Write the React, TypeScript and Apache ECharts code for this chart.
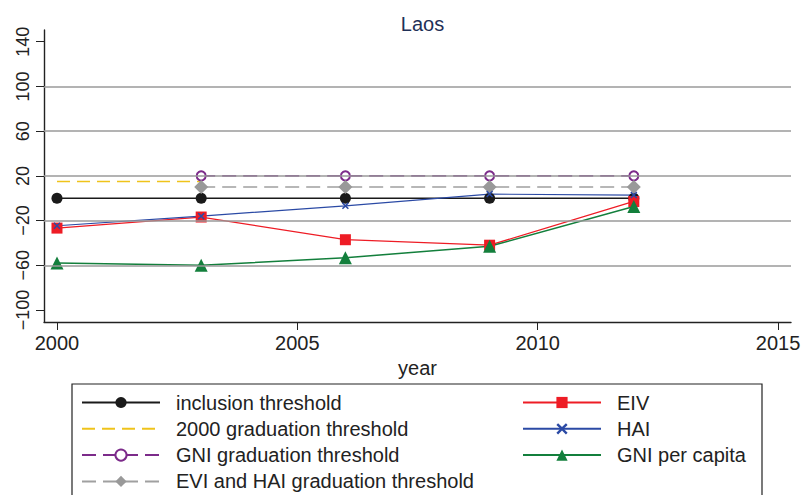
import React, { useEffect, useRef } from "react";
import * as echarts from "echarts";

const years = [2000, 2003, 2006, 2009, 2012];
const inclusionThreshold = [0, 0, 0, 0, 0];
const grad2000Years = [2000, 2003];
const grad2000Threshold = [15, 15];
const gradYears = [2003, 2006, 2009, 2012];
const gniGradThreshold = [20, 20, 20, 20];
const eviHaiGradThreshold = [10, 10, 10, 10];
const eiv = [-26.7, -16.8, -37.1, -42, -2.9];
const hai = [-24.6, -16, -6.8, 3.7, 2.8];
const gniPerCapita = [-58, -60, -53.2, -43, -7.4];

const xTicks = [2000, 2005, 2010, 2015];
const yTicks = [-100, -60, -20, 20, 60, 100, 140];
const yGrid = [-60, -20, 20, 60, 100];

const FONT = "Liberation Sans, Arial, Helvetica, sans-serif";
const X_SYMBOL =
  "path://M0,1.5 L1.5,0 L5,3.5 L8.5,0 L10,1.5 L6.5,5 L10,8.5 L8.5,10 L5,6.5 L1.5,10 L0,8.5 L3.5,5 Z";

const pairs = (xs: number[], ys: number[]) => xs.map((x, i) => [x, ys[i]]);

export default function App() {
  const ref = useRef<HTMLDivElement>(null);
  useEffect(() => {
    if (!ref.current) return;
    document.body.style.margin = "0";
    const chart = echarts.init(ref.current, undefined, { renderer: "svg" });
    const textColor = "#222";
    const legendCommon = {
      top: 392.5,
      orient: "vertical",
      padding: 0,
      itemGap: 6.3,
      itemWidth: 78,
      itemHeight: 14,
      selectedMode: false,
      textStyle: { fontFamily: FONT, fontSize: 20, color: textColor, padding: [0, 0, 0, 11] },
    };
    chart.setOption({
      animation: false,
      backgroundColor: "#fff",
      title: {
        text: "Laos",
        left: 417.5,
        textAlign: "center",
        top: 9,
        textStyle: { fontFamily: FONT, fontSize: 20, fontWeight: "normal", color: "#1f3057" },
      },
      grid: { left: 44, right: 12, top: 30, bottom: 173, containLabel: false, outerBoundsMode: "none" },
      xAxis: {
        type: "value",
        min: 1999.73,
        max: 2015.27,
        name: "year",
        nameLocation: "middle",
        nameGap: 25,
        nameTextStyle: { fontFamily: FONT, fontSize: 20, color: textColor },
        axisLine: { show: true, onZero: false, lineStyle: { color: "#222", width: 1.4 } },
        axisTick: { show: true, inside: false, length: 8, customValues: xTicks, lineStyle: { color: "#222", width: 1 } },
        axisLabel: {
          show: true,
          margin: 11,
          customValues: xTicks,
          fontFamily: FONT,
          fontSize: 20,
          color: textColor,
          hideOverlap: false,
          formatter: (v: number) => String(v),
        },
        splitLine: { show: false },
      },
      yAxis: {
        type: "value",
        min: -110.7,
        max: 150.5,
        axisLine: { show: true, onZero: false, lineStyle: { color: "#222", width: 1.4 } },
        axisTick: { show: true, inside: false, length: 8, customValues: yTicks, lineStyle: { color: "#222", width: 1 } },
        axisLabel: {
          show: true,
          rotate: 90,
          margin: 12,
          customValues: yTicks,
          fontFamily: FONT,
          fontSize: 18,
          color: textColor,
          formatter: (v: number) => (v < 0 ? "\u2212" + Math.abs(v) : String(v)),
        },
        splitLine: { show: false },
      },
      legend: [
        {
          ...legendCommon,
          left: 81,
          data: [
            { name: "inclusion threshold" },
            { name: "2000 graduation threshold", itemStyle: { opacity: 0 } },
            { name: "GNI graduation threshold" },
            { name: "EVI and HAI graduation threshold" },
          ],
        },
        {
          ...legendCommon,
          left: 522,
          data: [{ name: "EIV" }, { name: "HAI" }, { name: "GNI per capita" }],
        },
      ],
      graphic: [
        {
          type: "rect",
          shape: { x: 72, y: 384, width: 690, height: 140 },
          style: { fill: "none", stroke: "#222", lineWidth: 1.2 },
          silent: true,
          z: 0,
        },
      ],
      series: [
        {
          name: "grid",
          type: "line",
          data: [],
          z: 1,
          silent: true,
          markLine: {
            silent: true,
            symbol: "none",
            label: { show: false },
            lineStyle: { color: "#9a9a9a", width: 1.5, type: "solid" },
            data: yGrid.map((v) => ({ yAxis: v })),
          },
        },
        {
          name: "inclusion threshold",
          type: "line",
          data: pairs(years, inclusionThreshold),
          symbol: "circle",
          symbolSize: 11,
          lineStyle: { color: "#1a1a1a", width: 1.5 },
          itemStyle: { color: "#1a1a1a" },
        },
        {
          name: "2000 graduation threshold",
          type: "line",
          data: pairs(grad2000Years, grad2000Threshold),
          symbol: "none",
          lineStyle: { color: "#efc31b", width: 1.5, type: [13, 7] },
          itemStyle: { color: "#efc31b" },
        },
        {
          name: "GNI graduation threshold",
          type: "line",
          data: pairs(gradYears, gniGradThreshold),
          symbol: "emptyCircle",
          symbolSize: 9,
          lineStyle: { color: "#7c2b8a", width: 1.8, type: [14, 7] },
          itemStyle: { color: "#7c2b8a", borderWidth: 2 },
        },
        {
          name: "EVI and HAI graduation threshold",
          type: "line",
          data: pairs(gradYears, eviHaiGradThreshold),
          symbol: "diamond",
          symbolSize: 14,
          lineStyle: { color: "#a0a0a0", width: 1.5, type: [14, 7] },
          itemStyle: { color: "#999999" },
        },
        {
          name: "EIV",
          type: "line",
          data: pairs(years, eiv),
          symbol: "rect",
          symbolSize: 11,
          lineStyle: { color: "#ee1c25", width: 1.3 },
          itemStyle: { color: "#ee1c25" },
        },
        {
          name: "HAI",
          type: "line",
          data: pairs(years, hai),
          symbol: X_SYMBOL,
          symbolSize: 7,
          lineStyle: { color: "#2b4aa5", width: 1.2 },
          itemStyle: { color: "#2b4aa5" },
        },
        {
          name: "GNI per capita",
          type: "line",
          data: pairs(years, gniPerCapita),
          symbol: "triangle",
          symbolSize: 13,
          lineStyle: { color: "#137f3c", width: 1.5 },
          itemStyle: { color: "#137f3c" },
        },
      ],
    });
    return () => chart.dispose();
  }, []);
  return <div ref={ref} style={{ width: 803, height: 495 }} />;
}
